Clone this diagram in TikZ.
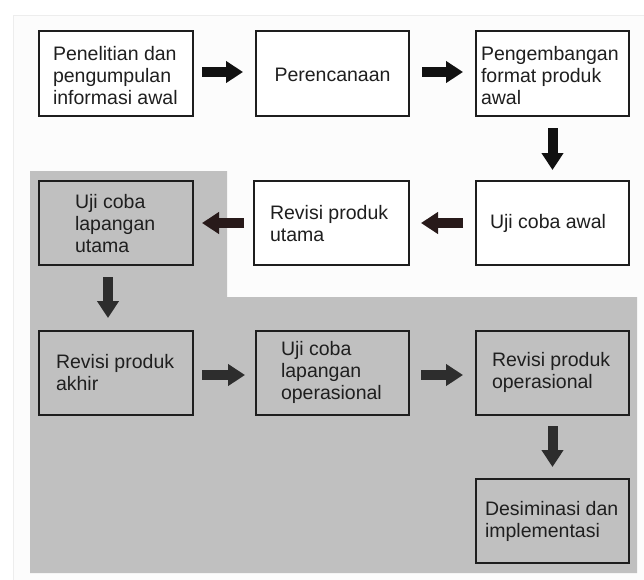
\documentclass[tikz,border=0pt]{standalone}
\usepackage{fontspec}
\setmainfont{Liberation Sans}
\usepackage{graphicx}
\usetikzlibrary{arrows.meta}
\definecolor{regiongray}{RGB}{192,192,192}
\definecolor{linecol}{RGB}{30,30,30}
\definecolor{arrA}{RGB}{17,17,17}
\definecolor{arrB}{RGB}{40,26,26}
\definecolor{arrC}{RGB}{45,45,45}
\definecolor{pagefill}{RGB}{252,252,252}
\newcommand\boxtext[1]{\scalebox{1.0}[1]{\begin{tabular}[t]{@{}l@{}}#1\end{tabular}}}
\begin{document}
\begin{tikzpicture}[x=1pt,y=-1pt,
  stagebox/.style={draw=linecol, line width=1.6pt, minimum width=154pt, minimum height=85pt, inner sep=0pt, outer sep=0pt},
  labeltext/.style={inner sep=0pt, outer sep=0pt, anchor=base west, font=\fontsize{19.5}{22}\selectfont, text=black!88},
  blockarrow/.style={line width=10pt, -{Triangle[length=17pt,width=21pt]}},
]
\useasboundingbox (0,0) rectangle (644,579);
% page
\fill[pagefill] (13,15) rectangle (650,585);
\draw[black!7, line width=0.8pt] (13,585) -- (13,15) -- (650,15);
% gray region
\fill[regiongray] (30,171) -- (227,171) -- (227,297) -- (637,297) -- (637,573) -- (30,573) -- cycle;

% boxes
\node[stagebox, fill=white] (b1) at (116,73.5) {};
\node[stagebox, fill=white, minimum width=153pt] (b2) at (332.5,73.5) {};
\node[stagebox, fill=white, minimum width=153pt] (b3) at (552.5,73.5) {};
\node[stagebox, fill=white, minimum width=153pt, minimum height=84pt] (b4) at (552.5,223) {};
\node[stagebox, fill=white, minimum width=155pt, minimum height=84pt] (b5) at (331.5,223) {};
\node[stagebox, fill=regiongray, minimum height=84pt] (b6) at (116,223) {};
\node[stagebox, minimum height=84pt] (b7) at (116,373) {};
\node[stagebox, minimum width=153pt, minimum height=84pt] (b8) at (332.5,373) {};
\node[stagebox, minimum width=153pt, minimum height=84pt] (b9) at (552.5,373) {};
\node[stagebox, minimum width=153pt, minimum height=84pt] (b10) at (552.5,521) {};

% texts
\node[labeltext] (t1) at (53,60) {\boxtext{Penelitian dan\\pengumpulan\\informasi awal}};
\node[labeltext, anchor=base] (t2) at (332.5,81) {\boxtext{Perencanaan}};
\node[labeltext] (t3) at (481,60) {\boxtext{Pengembangan\\format produk\\awal}};
\node[labeltext, anchor=base] (t4) at (548,228) {\boxtext{Uji coba awal}};
\node[labeltext] (t5) at (270,219) {\boxtext{Revisi produk\\utama}};
\node[labeltext] (t6) at (75,208) {\boxtext{Uji coba\\lapangan\\utama}};
\node[labeltext] (t7) at (56,368) {\boxtext{Revisi produk\\akhir}};
\node[labeltext] (t8) at (281,355) {\boxtext{Uji coba\\lapangan\\operasional}};
\node[labeltext] (t9) at (492,366) {\boxtext{Revisi produk\\operasional}};
\node[labeltext] (t10) at (485,515) {\boxtext{Desiminasi dan\\implementasi}};

% arrows
\draw[blockarrow, arrA] ([xshift=9pt,yshift=1.5pt]b1.east) -- ([xshift=-13pt,yshift=1.5pt]b2.west);
\draw[blockarrow, arrA] ([xshift=13pt,yshift=1.5pt]b2.east) -- ([xshift=-13pt,yshift=1.5pt]b3.west);
\draw[blockarrow, arrA] ([yshift=-12pt]b3.south) -- ([yshift=11pt]b4.north);
\draw[blockarrow, arrB] ([xshift=-13pt]b4.west) -- ([xshift=12pt]b5.east);
\draw[blockarrow, arrB] ([xshift=-10pt]b5.west) -- ([xshift=9pt]b6.east);
\draw[blockarrow, arrC] ([xshift=-8pt,yshift=-12pt]b6.south) -- ([xshift=-8pt,yshift=13pt]b7.north);
\draw[blockarrow, arrC] ([xshift=9pt,yshift=-2pt]b7.east) -- ([xshift=-11pt,yshift=-2pt]b8.west);
\draw[blockarrow, arrC] ([xshift=12pt,yshift=-2pt]b8.east) -- ([xshift=-13pt,yshift=-2pt]b9.west);
\draw[blockarrow, arrC] ([yshift=-11pt]b9.south) -- ([yshift=12pt]b10.north);
\end{tikzpicture}
\end{document}
